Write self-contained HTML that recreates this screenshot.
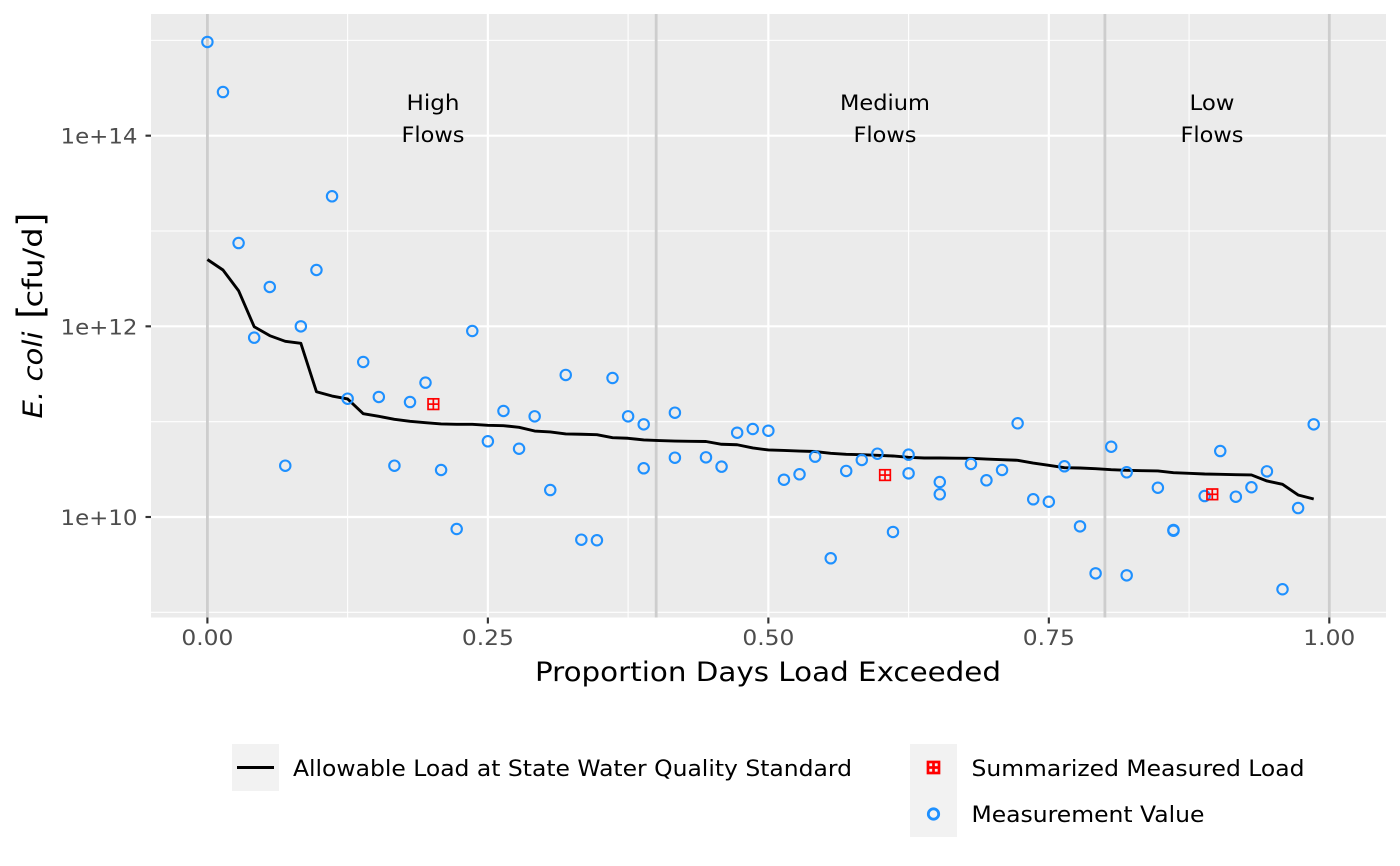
<!DOCTYPE html>
<html lang="en">
<head>
<meta charset="utf-8">
<title>E. coli Load Duration Curve</title>
<style>
html,body{margin:0;padding:0;background:#fff;width:1400px;height:866px;overflow:hidden}
svg{display:block}
text{font-family:"DejaVu Sans","Liberation Sans",sans-serif}
</style>
</head>
<body>
<svg id="chart" xmlns="http://www.w3.org/2000/svg" width="1400" height="866" viewBox="0 0 1400 866">
  <rect x="0" y="0" width="1400" height="866" fill="#ffffff"/>
  <rect x="151" y="14" width="1235" height="603.5" fill="#EBEBEB"/>
  <g id="grid"></g>
  <g id="zones"></g>
  <g id="series-line"></g>
  <g id="series-points"></g>
  <g id="series-summary"></g>
  <g font-size="21" fill="#000" text-anchor="middle">
    <text x="433" y="110" textLength="53" lengthAdjust="spacingAndGlyphs">High</text>
    <text x="433" y="142" textLength="63" lengthAdjust="spacingAndGlyphs">Flows</text>
    <text x="885" y="110" textLength="90" lengthAdjust="spacingAndGlyphs">Medium</text>
    <text x="885" y="142" textLength="63" lengthAdjust="spacingAndGlyphs">Flows</text>
    <text x="1212" y="110" textLength="45" lengthAdjust="spacingAndGlyphs">Low</text>
    <text x="1212" y="142" textLength="63" lengthAdjust="spacingAndGlyphs">Flows</text>
  </g>
  <g id="x-axis"></g>
  <g id="y-axis"></g>
  <text x="535" y="681" font-size="26.4" fill="#000" textLength="466" lengthAdjust="spacingAndGlyphs">Proportion Days Load Exceeded</text>
  <g fill="#000">
    <text transform="translate(42,418.5) rotate(-90)" font-size="26.4" font-style="italic" textLength="87" lengthAdjust="spacingAndGlyphs">E. coli</text>
    <text transform="translate(42.5,318.7) rotate(-90)" font-size="36">[</text>
    <text transform="translate(42,307.5) rotate(-90)" font-size="26.4" textLength="80" lengthAdjust="spacingAndGlyphs">cfu/d</text>
    <text transform="translate(42.5,226.7) rotate(-90)" font-size="36">]</text>
  </g>
  <g>
    <rect x="232" y="744" width="47" height="47" fill="#F2F2F2"/>
    <line x1="237" y1="767.5" x2="274" y2="767.5" stroke="#000" stroke-width="2.9"/>
    <text x="293" y="776" font-size="22" fill="#000" textLength="559" lengthAdjust="spacingAndGlyphs">Allowable Load at State Water Quality Standard</text>
    <rect x="910" y="744" width="47" height="93" fill="#F2F2F2"/>
    <g fill="none" stroke="#FF0000" stroke-width="2.7">
      <rect x="928" y="762" width="11" height="11"/>
      <line x1="933.5" y1="762" x2="933.5" y2="773"/>
      <line x1="928" y1="767.5" x2="939" y2="767.5"/>
    </g>
    <text x="971.5" y="776" font-size="22" fill="#000" textLength="333" lengthAdjust="spacingAndGlyphs">Summarized Measured Load</text>
    <circle cx="933.5" cy="814" r="5.2" fill="none" stroke="#1E90FF" stroke-width="2.8"/>
    <text x="971.5" y="822" font-size="22" fill="#000" textLength="233" lengthAdjust="spacingAndGlyphs">Measurement Value</text>
  </g>
</svg>
<script>
var xMajorTicks = [0, 0.25, 0.5, 0.75, 1];
var xTickLabels = ["0.00", "0.25", "0.50", "0.75", "1.00"];
var xMinorTicks = [0.125, 0.375, 0.625, 0.875];
var yMajorTicks = [14, 12, 10];
var yTickLabels = ["1e+14", "1e+12", "1e+10"];
var yMinorTicks = [15, 13, 11, 9];
var zoneBreaks = [0, 0.4, 0.8, 1];

var lineExceedance = [0, 0.0139, 0.0278, 0.0417, 0.0556, 0.0694, 0.0833, 0.0972, 0.1111, 0.125, 0.1389, 0.1528, 0.1667, 0.1806, 0.1944, 0.2083, 0.2222, 0.2361, 0.25, 0.2639, 0.2778, 0.2917, 0.3056, 0.3194, 0.3333, 0.3472, 0.3611, 0.375, 0.3889, 0.4028, 0.4167, 0.4306, 0.4444, 0.4583, 0.4722, 0.4861, 0.5, 0.5139, 0.5278, 0.5417, 0.5556, 0.5694, 0.5833, 0.5972, 0.6111, 0.625, 0.6389, 0.6528, 0.6667, 0.6806, 0.6944, 0.7083, 0.7222, 0.7361, 0.75, 0.7639, 0.7778, 0.7917, 0.8056, 0.8194, 0.8333, 0.8472, 0.8611, 0.875, 0.8889, 0.9028, 0.9167, 0.9306, 0.9444, 0.9583, 0.9722, 0.9861];
var lineLog10Load = [12.701, 12.591, 12.374, 11.996, 11.902, 11.843, 11.822, 11.314, 11.269, 11.238, 11.084, 11.056, 11.025, 11.004, 10.989, 10.976, 10.972, 10.972, 10.962, 10.958, 10.941, 10.902, 10.892, 10.871, 10.868, 10.863, 10.832, 10.826, 10.808, 10.802, 10.797, 10.794, 10.792, 10.763, 10.758, 10.724, 10.703, 10.698, 10.692, 10.687, 10.668, 10.658, 10.654, 10.647, 10.640, 10.626, 10.619, 10.619, 10.617, 10.616, 10.608, 10.601, 10.595, 10.566, 10.542, 10.517, 10.514, 10.507, 10.496, 10.490, 10.486, 10.483, 10.465, 10.458, 10.451, 10.448, 10.444, 10.441, 10.378, 10.343, 10.231, 10.189];

var pointExceedance = [0, 0.0139, 0.0278, 0.0417, 0.0556, 0.0694, 0.0833, 0.0972, 0.1111, 0.125, 0.1389, 0.1528, 0.1667, 0.1806, 0.1944, 0.2083, 0.2222, 0.2361, 0.25, 0.2639, 0.2778, 0.2917, 0.3056, 0.3194, 0.3333, 0.3472, 0.3611, 0.375, 0.3889, 0.3889, 0.4167, 0.4167, 0.4444, 0.4583, 0.4722, 0.4861, 0.5, 0.5139, 0.5278, 0.5417, 0.5556, 0.5694, 0.5833, 0.5972, 0.6111, 0.625, 0.625, 0.6528, 0.6528, 0.6806, 0.6944, 0.7083, 0.7222, 0.7361, 0.75, 0.7639, 0.7778, 0.7917, 0.8056, 0.8194, 0.8194, 0.8472, 0.8611, 0.8611, 0.8889, 0.9028, 0.9167, 0.9306, 0.9444, 0.9583, 0.9722, 0.9861];
var pointLog10Load = [14.983, 14.458, 12.874, 11.881, 12.413, 10.538, 12.000, 12.591, 13.364, 11.241, 11.626, 11.259, 10.538, 11.206, 11.409, 10.493, 9.874, 11.951, 10.794, 11.112, 10.716, 11.056, 10.283, 11.490, 9.762, 9.756, 11.458, 11.056, 10.972, 10.511, 11.094, 10.622, 10.626, 10.528, 10.884, 10.923, 10.905, 10.391, 10.448, 10.633, 9.567, 10.483, 10.598, 10.664, 9.843, 10.654, 10.458, 10.367, 10.238, 10.556, 10.385, 10.493, 10.983, 10.186, 10.160, 10.532, 9.902, 9.409, 10.737, 10.469, 9.388, 10.307, 9.864, 9.856, 10.220, 10.692, 10.213, 10.312, 10.479, 9.242, 10.094, 10.972];

var summaryExceedance = [0.2014, 0.604, 0.8957];
var summaryLog10Load = [11.184, 10.440, 10.238];

var svgNS = "http://www.w3.org/2000/svg";
function xScale(v) { return 207.4 + 1121.9 * v; }
function yScale(v) { return 517 - 95.33 * (v - 10); }
function make(tag, parent) {
  var el = document.createElementNS(svgNS, tag);
  parent.appendChild(el);
  return el;
}
function setLine(el, x1, y1, x2, y2, color, width) {
  el.setAttribute("x1", x1);
  el.setAttribute("y1", y1);
  el.setAttribute("x2", x2);
  el.setAttribute("y2", y2);
  el.setAttribute("stroke", color);
  el.setAttribute("stroke-width", width);
}
var panelLeft = 151, panelRight = 1386, panelTop = 14, panelBottom = 617.5;
var grid = document.getElementById("grid");
var zones = document.getElementById("zones");
var xAxis = document.getElementById("x-axis");
var yAxis = document.getElementById("y-axis");

yMinorTicks.forEach(function (v) {
  var el = make("line", grid);
  
  
  setLine(el, panelLeft, yScale(v), panelRight, yScale(v), "#fff", 1.07);
});
xMinorTicks.forEach(function (v) {
  var el = make("line", grid);
  
  
  setLine(el, xScale(v), panelTop, xScale(v), panelBottom, "#fff", 1.07);
});
yMajorTicks.forEach(function (v, i) {
  var el = make("line", grid);
  
  
  setLine(el, panelLeft, yScale(v), panelRight, yScale(v), "#fff", 2.13);
  var tick = make("line", yAxis);
  
  
  setLine(tick, 145.5, yScale(v), panelLeft, yScale(v), "#333333", 2.13);
  var label = make("text", yAxis);
  
  
  label.setAttribute("x", 60.5);
  label.setAttribute("y", yScale(v) + 8);
  label.setAttribute("textLength", "77");
  label.setAttribute("lengthAdjust", "spacingAndGlyphs");
  label.setAttribute("font-size", "21");
  label.setAttribute("fill", "#4D4D4D");
  label.textContent = yTickLabels[i];
});
xMajorTicks.forEach(function (v, i) {
  var el = make("line", grid);
  
  
  setLine(el, xScale(v), panelTop, xScale(v), panelBottom, "#fff", 2.13);
  var tick = make("line", xAxis);
  
  
  setLine(tick, xScale(v), panelBottom, xScale(v), panelBottom + 6, "#333333", 2.13);
  var label = make("text", xAxis);
  
  
  label.setAttribute("x", xScale(v) - 26);
  label.setAttribute("y", 645);
  label.setAttribute("textLength", "52");
  label.setAttribute("lengthAdjust", "spacingAndGlyphs");
  label.setAttribute("font-size", "21");
  label.setAttribute("fill", "#4D4D4D");
  label.textContent = xTickLabels[i];
});
zoneBreaks.forEach(function (v) {
  var el = make("line", zones);
  
  
  setLine(el, xScale(v), panelTop, xScale(v), panelBottom, "#CDCDCD", 2.8);
});

var path = make("polyline", document.getElementById("series-line"));


path.setAttribute("points", lineExceedance.map(function (v, i) {
  return xScale(v).toFixed(2) + "," + yScale(lineLog10Load[i]).toFixed(2);
}).join(" "));
path.setAttribute("fill", "none");
path.setAttribute("stroke", "#000");
path.setAttribute("stroke-width", "2.9");
path.setAttribute("stroke-linejoin", "round");

pointExceedance.forEach(function (v, i) {
  var c = make("circle", document.getElementById("series-points"));
  
  
  c.setAttribute("cx", xScale(v));
  c.setAttribute("cy", yScale(pointLog10Load[i]));
  c.setAttribute("r", "5.2");
  c.setAttribute("fill", "none");
  c.setAttribute("stroke", "#1E90FF");
  c.setAttribute("stroke-width", "2.1");
});

summaryExceedance.forEach(function (v, i) {
  var g = make("g", document.getElementById("series-summary"));
  
  
  g.setAttribute("fill", "none");
  g.setAttribute("stroke", "#FF0000");
  g.setAttribute("stroke-width", "1.7");
  var cx = xScale(v), cy = yScale(summaryLog10Load[i]), h = 5.3;
  var r = make("rect", g);
  r.setAttribute("x", cx - h);
  r.setAttribute("y", cy - h);
  r.setAttribute("width", h * 2);
  r.setAttribute("height", h * 2);
  var a = make("line", g);
  a.setAttribute("x1", cx);
  a.setAttribute("y1", cy - h);
  a.setAttribute("x2", cx);
  a.setAttribute("y2", cy + h);
  var b = make("line", g);
  b.setAttribute("x1", cx - h);
  b.setAttribute("y1", cy);
  b.setAttribute("x2", cx + h);
  b.setAttribute("y2", cy);
});
</script>
</body>
</html>
